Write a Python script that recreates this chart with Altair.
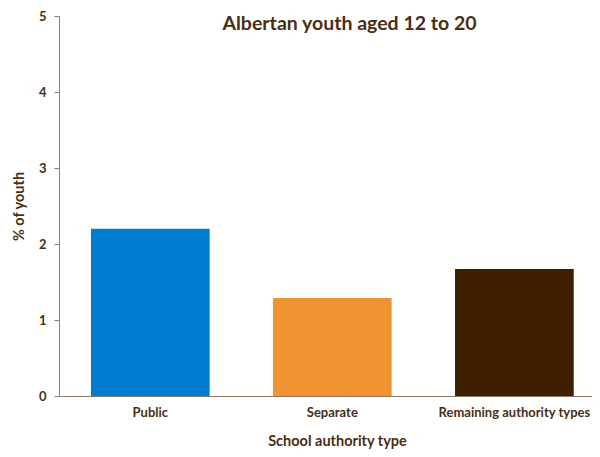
import altair as alt
import pandas as pd

categories = ["Public", "Separate", "Remaining authority types"]
values = [2.2, 1.29, 1.67]
colors = ["#007DD0", "#F09433", "#3D1F00"]
y_ticks = [0, 1, 2, 3, 4, 5]

df = pd.DataFrame({"type": categories, "pct": values})

FONT = "Lato"
TEXT = "#4A2E12"
AXIS = "#8C7A68"

chart = alt.Chart(df).mark_bar().encode(
    x=alt.X(
        "type:N",
        sort=categories,
        scale=alt.Scale(paddingInner=0.348, paddingOuter=0.138, align=0.636),
        axis=alt.Axis(
            title="School authority type",
            labelAngle=0,
            ticks=False,
            labelPadding=10,
            titlePadding=15,
            domainColor=AXIS,
            labelFont=FONT,
            labelFontSize=13,
            labelFontWeight="bold",
            labelColor=TEXT,
            titleFont=FONT,
            titleFontSize=14.5,
            titleFontWeight="bold",
            titleColor=TEXT,
            titleX=278,
        ),
    ),
    y=alt.Y(
        "pct:Q",
        scale=alt.Scale(domain=[0, 5]),
        axis=alt.Axis(
            title="% of youth",
            values=y_ticks,
            format="d",
            grid=False,
            tickSize=5,
            tickColor=AXIS,
            domainColor=AXIS,
            labelPadding=8,
            labelFont=FONT,
            labelFontSize=13,
            labelFontWeight="bold",
            labelColor=TEXT,
            titleFont=FONT,
            titleFontSize=14.5,
            titleFontWeight="bold",
            titleColor=TEXT,
            titlePadding=12,
        ),
    ),
    color=alt.Color("type:N", scale=alt.Scale(domain=categories, range=colors), legend=None),
).properties(
    width=533,
    height=380,
    title=alt.TitleParams(
        text="Albertan youth aged 12 to 20",
        font=FONT,
        fontSize=19.5,
        fontWeight="bold",
        color=TEXT,
        anchor="middle",
        offset=0,
        dx=24,
        dy=24,
    ),
    autosize="none",
    padding={"left": 51, "top": 8, "right": 0, "bottom": 53},
).configure_view(stroke=None)

chart.save("out.html", embed_options={"renderer": "svg", "actions": False})
